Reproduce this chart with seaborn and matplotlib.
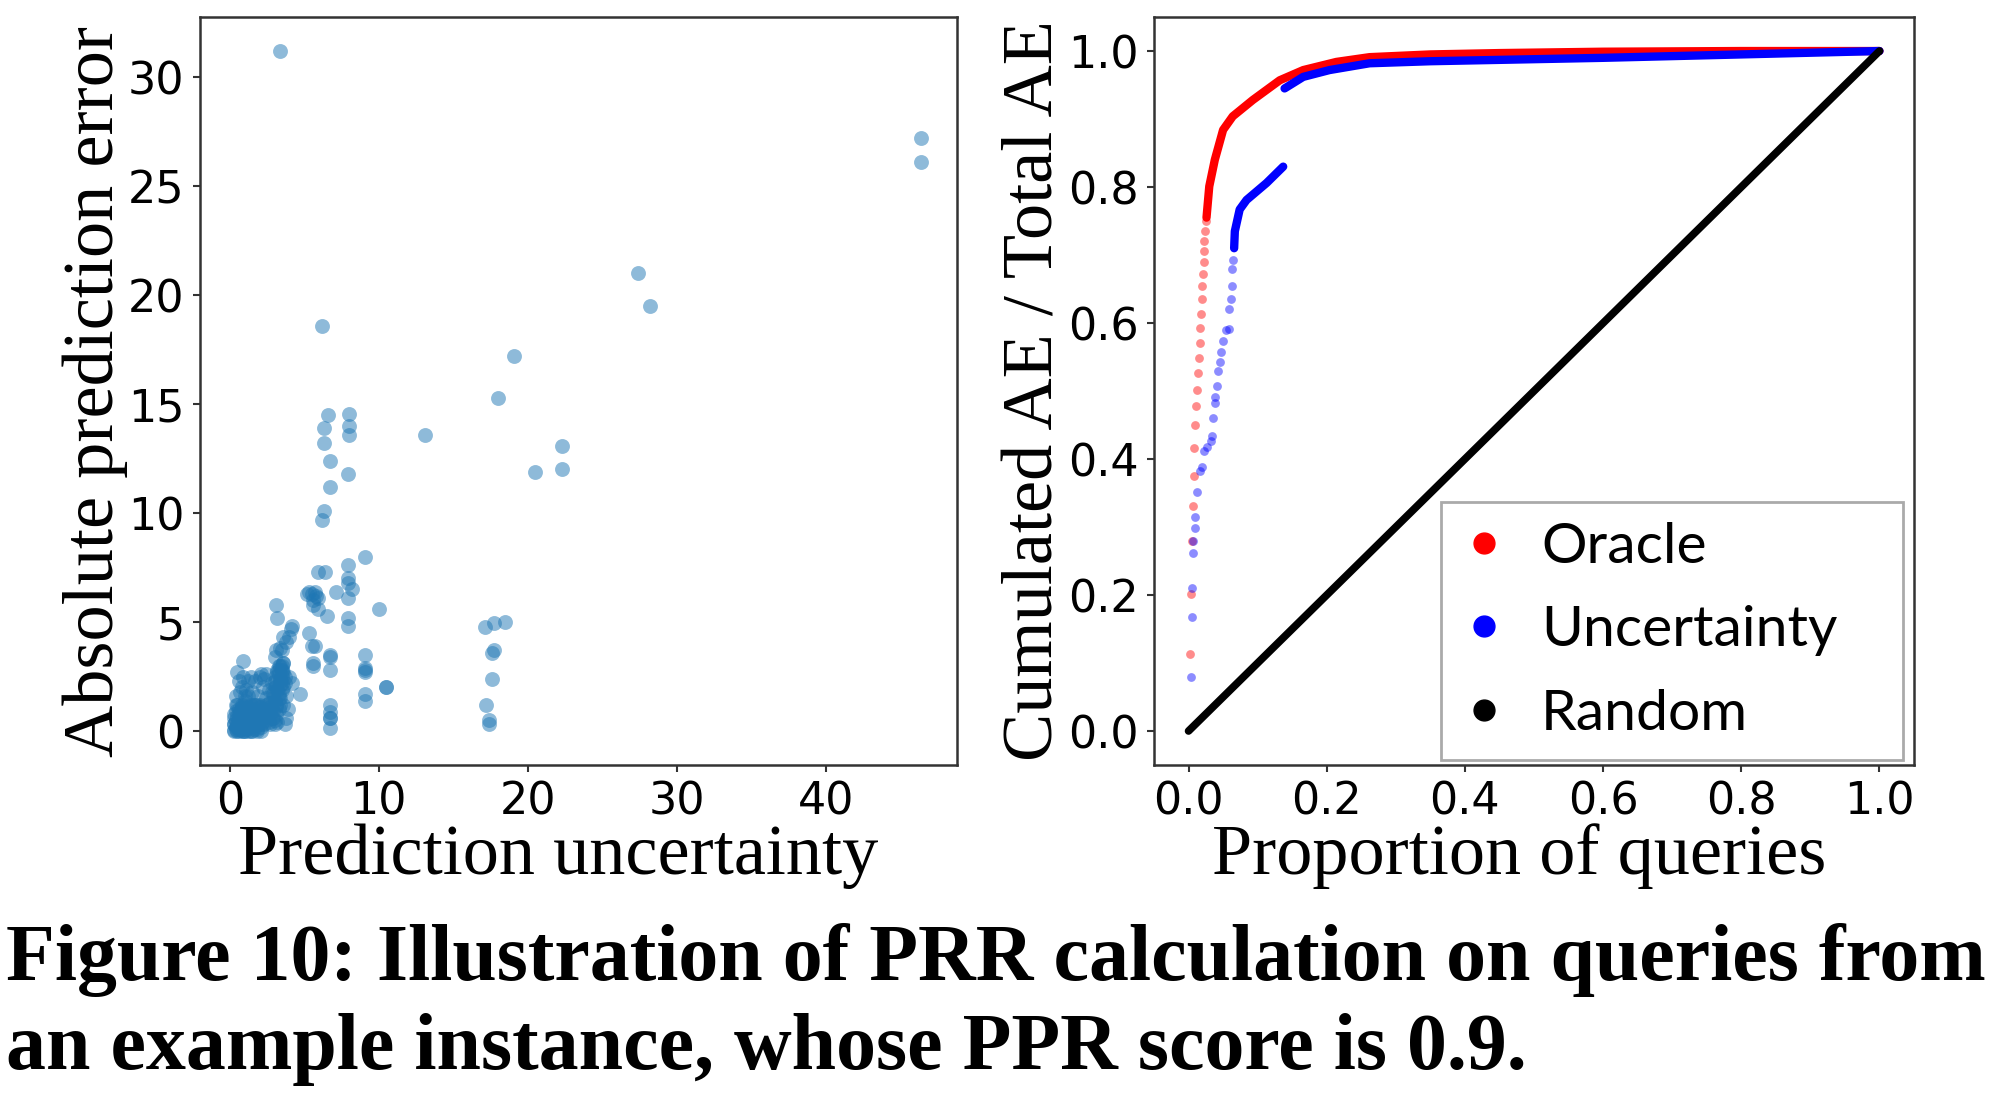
import matplotlib
matplotlib.use('Agg')
import matplotlib.pyplot as plt
from matplotlib.lines import Line2D
import seaborn as sns

# 左图: 预测不确定度 vs 绝对误差
unc = [3.4, 46.4, 46.4, 27.4, 28.2, 6.2, 19.1, 18.0, 6.6, 8.0, 6.3, 8.0, 6.3, 8.0, 13.1,
       22.3, 6.7, 22.3, 20.5, 7.9, 6.7, 6.3, 6.2, 9.1, 7.9, 5.9, 6.4, 7.9, 7.9, 5.3,
       5.7, 7.1, 8.2, 5.9, 5.6, 7.9, 3.1, 10.0, 5.9, 6.5, 3.2, 7.9, 7.9, 4.2, 17.1,
       17.7, 18.5, 5.3, 4.0, 3.8, 5.7, 3.4, 17.7, 17.6, 6.7, 9.1, 3.0, 6.7, 9.1, 9.1,
       5.6, 17.6, 10.5, 9.1, 9.1, 6.7, 6.7, 6.7, 6.7, 17.2, 17.4, 17.4,
       5.2, 5.5, 5.8, 5.6, 3.5, 4.1, 3.1, 3.6, 5.6, 5.5, 6.7, 6.7, 10.5, 9.1,
       # 原点附近的密集点
       0.3, 0.4, 0.5, 0.5, 0.6, 0.7, 0.7, 0.8, 0.9, 0.9, 1.0, 1.1, 1.1, 1.2, 1.3,
       1.3, 1.4, 1.5, 1.6, 1.6, 1.7, 1.8, 1.9, 2.0, 0.4, 0.6, 0.8, 1.0, 1.2, 0.5,
       0.3, 1.0, 2.1, 2.2,
       0.3, 0.6, 0.9, 1.2, 1.5, 1.8, 2.1, 0.3, 0.6, 0.9, 1.2, 1.5, 1.8, 2.1,
       0.3, 0.6, 0.9, 1.2, 1.5, 1.8, 2.1, 0.4, 0.7, 1.0, 1.3, 1.6, 1.9, 2.2,
       0.5, 0.8, 1.1, 1.4, 1.7, 2.0,
       0.4, 0.7, 1.0, 1.3, 1.6, 1.9, 0.5, 0.8, 1.1, 1.4, 1.7, 2.0, 0.6, 0.9,
       1.2, 1.5, 1.8, 2.2, 0.3, 0.4,
       2.3, 2.4, 2.5, 2.6, 2.7, 2.8, 2.9, 2.9, 3.0, 3.1, 3.1, 3.2, 3.3, 3.3, 3.4,
       3.5, 3.5, 3.6, 3.6, 3.7, 3.2, 3.0, 2.6, 3.8, 3.9, 3.7,
       2.3, 2.7, 3.0, 2.5, 2.9, 3.3, 2.6, 3.0, 3.4, 2.8, 3.2, 3.6, 3.0, 3.4, 3.2,
       3.5, 3.4, 3.6, 3.7, 3.8, 3.5, 3.3,
       2.4, 2.8, 3.1, 2.7, 3.1, 3.4, 2.9, 3.3, 3.0, 3.4, 3.5, 3.3, 3.5, 3.6, 2.4, 2.7,
       0.8, 0.9, 1.1, 1.4, 1.7, 2.0, 2.3, 1.5, 1.9, 2.4, 1.2, 4.0, 4.2, 4.7, 0.9,
       0.4, 0.7, 1.0, 0.6, 2.2, 2.1, 0.5]
err = [31.2, 27.2, 26.1, 21.0, 19.5, 18.6, 17.2, 15.3, 14.5, 14.55, 13.9, 14.0, 13.2, 13.6, 13.6,
       13.1, 12.4, 12.0, 11.9, 11.8, 11.2, 10.1, 9.7, 8.0, 7.6, 7.3, 7.3, 7.0, 6.8, 6.4,
       6.4, 6.4, 6.5, 6.1, 5.8, 6.1, 5.8, 5.6, 5.6, 5.3, 5.2, 5.2, 4.8, 4.8, 4.75,
       4.95, 5.0, 4.5, 4.3, 4.1, 3.9, 3.8, 3.7, 3.6, 3.5, 3.5, 3.4, 2.8, 2.9, 2.7,
       3.0, 2.4, 2.0, 1.7, 1.4, 1.2, 0.85, 0.6, 0.13, 1.2, 0.5, 0.3,
       6.3, 6.3, 6.2, 6.0, 3.7, 4.7, 3.7, 4.3, 3.1, 3.9, 3.4, 0.6, 2.0, 2.8,
       0.05, 0.1, 0.0, 0.3, 0.15, 0.05, 0.4, 0.2, 0.0, 0.6, 0.3, 0.1, 0.8, 0.5, 0.2,
       1.0, 0.0, 0.6, 0.3, 1.2, 0.9, 0.1, 0.5, 1.1, 0.5, 0.8, 1.1, 1.4, 1.6, 0.2,
       0.3, 0.0, 0.2, 0.6,
       0.0, 0.0, 0.0, 0.0, 0.0, 0.0, 0.0, 0.3, 0.3, 0.3, 0.3, 0.3, 0.3, 0.3,
       0.6, 0.6, 0.6, 0.6, 0.6, 0.6, 0.6, 0.9, 0.9, 0.9, 0.9, 0.9, 0.9, 0.9,
       1.2, 1.2, 1.2, 1.2, 1.2, 1.2,
       0.2, 0.2, 0.2, 0.4, 0.1, 0.3, 0.7, 0.6, 0.5, 0.8, 0.6, 0.8, 1.0, 1.0,
       1.1, 1.0, 1.2, 1.0, 0.8, 1.2,
       1.0, 1.5, 0.8, 1.9, 1.3, 2.2, 0.6, 1.7, 2.5, 1.1, 2.0, 2.8, 1.5, 3.0, 2.3,
       1.9, 2.7, 3.1, 1.2, 2.2, 0.4, 0.3, 0.4, 0.6, 1.0, 0.3,
       0.3, 0.3, 0.5, 0.8, 0.9, 1.0, 1.3, 1.4, 1.5, 1.8, 1.9, 2.0, 2.3, 2.4, 2.7,
       2.8, 3.0, 3.1, 2.5, 1.6, 2.2, 2.6,
       0.5, 0.6, 0.8, 1.1, 1.2, 1.2, 1.5, 1.7, 2.0, 2.1, 2.5, 2.8, 3.0, 2.7, 1.2, 0.9,
       2.0, 2.5, 1.9, 2.5, 2.3, 2.5, 2.4, 1.8, 1.6, 2.6, 2.3, 2.5, 2.2, 1.7, 3.2,
       1.6, 1.8, 1.6, 2.3, 2.0, 2.6, 2.7]

# 右图: 累积误差曲线 (稀疏的起始点 + 密集部分)
oracle_dot_x = [0.0024, 0.0036, 0.0048, 0.0063, 0.0072, 0.0082, 0.0097, 0.011, 0.0126, 0.0135, 0.0145,
                0.016, 0.017, 0.018, 0.019, 0.020, 0.021, 0.0217, 0.022, 0.023, 0.024, 0.0256]
oracle_dot_y = [0.114, 0.201, 0.279, 0.331, 0.375, 0.416, 0.450, 0.478, 0.502, 0.526, 0.549,
                0.571, 0.592, 0.614, 0.636, 0.654, 0.672, 0.690, 0.706, 0.721, 0.736, 0.750]
oracle_x = [0.026, 0.030, 0.038, 0.050, 0.064, 0.093, 0.132, 0.166, 0.214, 0.262, 0.35, 0.45, 0.6, 0.8, 1.0]
oracle_y = [0.755, 0.801, 0.840, 0.884, 0.904, 0.928, 0.957, 0.972, 0.984, 0.991, 0.995, 0.997, 0.999, 1.0, 1.0]

unc_dot_x = [0.0039, 0.0048, 0.0053, 0.0063, 0.0063, 0.0087, 0.0097, 0.012, 0.016, 0.020, 0.023, 0.0266,
             0.033, 0.034, 0.036, 0.038, 0.039, 0.041, 0.0425, 0.045, 0.047, 0.050, 0.054, 0.058,
             0.059, 0.062, 0.063, 0.063, 0.065]
unc_dot_y = [0.080, 0.167, 0.211, 0.262, 0.279, 0.299, 0.315, 0.352, 0.383, 0.388, 0.412, 0.417,
             0.427, 0.434, 0.460, 0.483, 0.491, 0.508, 0.530, 0.542, 0.557, 0.574, 0.590, 0.591,
             0.620, 0.636, 0.654, 0.679, 0.692]
unc_x1 = [0.066, 0.067, 0.074, 0.084, 0.113, 0.137]
unc_y1 = [0.710, 0.735, 0.767, 0.781, 0.806, 0.830]
unc_x2 = [0.139, 0.166, 0.204, 0.262, 0.35, 0.45, 0.6, 0.8, 1.0]
unc_y2 = [0.945, 0.962, 0.972, 0.982, 0.985, 0.987, 0.990, 0.995, 1.0]

random_x = [0.0, 1.0]
random_y = [0.0, 1.0]

sns.set_theme(style='ticks')
plt.rcParams['font.family'] = ['DejaVu Sans']
plt.rcParams['text.color'] = 'black'
plt.rcParams['axes.labelcolor'] = 'black'
plt.rcParams['xtick.labelcolor'] = 'black'
plt.rcParams['ytick.labelcolor'] = 'black'

SERIF = 'Liberation Serif'

fig = plt.figure(figsize=(20, 11.06), dpi=100)
ax1 = fig.add_axes([0.100, 0.3083, 0.3785, 0.6763])
ax2 = fig.add_axes([0.577, 0.3083, 0.380, 0.6763])

# 左图
sns.scatterplot(x=unc, y=err, ax=ax1, s=115, color='#1f77b4', alpha=0.5, linewidth=0)
ax1.set_xlim(-2.0, 48.8)
ax1.set_ylim(-1.56, 32.76)
ax1.set_xticks([0, 10, 20, 30, 40])
ax1.set_yticks([0, 5, 10, 15, 20, 25, 30])
ax1.set_xlabel('Prediction uncertainty', fontfamily=SERIF, fontsize=52, labelpad=0)
ax1.set_ylabel('Absolute prediction error', fontfamily=SERIF, fontsize=52, labelpad=0)
ax1.xaxis.label.set_x(0.473)

# 右图
sns.scatterplot(x=oracle_dot_x, y=oracle_dot_y, ax=ax2, s=40, color='red', alpha=0.45, linewidth=0)
sns.lineplot(x=oracle_x, y=oracle_y, ax=ax2, color='red', lw=6, sort=False, estimator=None,
             legend=False, solid_capstyle='round')
sns.scatterplot(x=unc_dot_x, y=unc_dot_y, ax=ax2, s=40, color='blue', alpha=0.45, linewidth=0)
sns.lineplot(x=unc_x1, y=unc_y1, ax=ax2, color='blue', lw=6, sort=False, estimator=None,
             legend=False, solid_capstyle='round')
sns.lineplot(x=unc_x2, y=unc_y2, ax=ax2, color='blue', lw=6, sort=False, estimator=None,
             legend=False, solid_capstyle='round')
sns.lineplot(x=random_x, y=random_y, ax=ax2, color='black', lw=5.5, sort=False, estimator=None,
             legend=False, solid_capstyle='round')
ax2.set_xlim(-0.05, 1.05)
ax2.set_ylim(-0.05, 1.05)
ax2.set_xticks([0.0, 0.2, 0.4, 0.6, 0.8, 1.0])
ax2.set_yticks([0.0, 0.2, 0.4, 0.6, 0.8, 1.0])
ax2.set_xlabel('Proportion of queries', fontfamily=SERIF, fontsize=52, labelpad=0)
ax2.set_ylabel('Cumulated AE / Total AE', fontfamily=SERIF, fontsize=52, labelpad=0)
ax2.xaxis.label.set_x(0.48)

handles = [Line2D([], [], marker='o', ls='', color=c, markersize=15)
           for c in ['red', 'blue', 'black']]
leg = ax2.legend(handles, ['Oracle', 'Uncertainty', 'Random'], loc='lower left',
                 bbox_to_anchor=(0.378, 0.007, 0.6075, 0), mode='expand',
                 prop={'family': 'Lato', 'size': 41}, frameon=True, fancybox=False,
                 framealpha=1, edgecolor='#aaaaaa', borderaxespad=0, handlelength=0.8,
                 handletextpad=0.6, labelspacing=0.57, borderpad=0.35)
leg.get_frame().set_linewidth(2)

for ax in (ax1, ax2):
    ax.tick_params(labelsize=32, length=5, width=1.5, color='#333333', pad=6)
    for sp in ax.spines.values():
        sp.set_color('#333333')
        sp.set_linewidth(1.8)

fig.text(0.003, 1 - 980 / 1106, 'Figure 10: Illustration of PRR calculation on queries from',
         fontfamily=SERIF, fontweight='bold', fontsize=57.5, va='baseline')
fig.text(0.003, 1 - 1069 / 1106, 'an example instance, whose PPR score is 0.9.',
         fontfamily=SERIF, fontweight='bold', fontsize=57.5, va='baseline')

plt.savefig('out.png', dpi=100)
